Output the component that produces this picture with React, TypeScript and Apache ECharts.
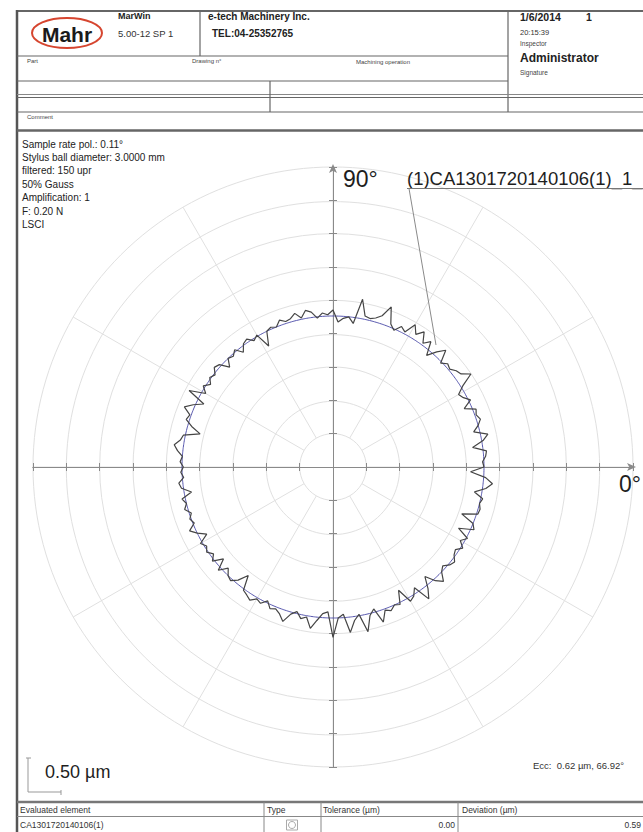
import React, { useEffect, useRef } from "react";
import * as echarts from "echarts";

// ---- data ----
const SAMPLE_ANGLES_DEG = [
  0, 2, 4, 6, 8, 10, 12, 14, 16, 18, 20, 22, 24, 26, 28, 30, 32, 34, 36, 38,
  40, 42, 44, 46, 48, 50, 52, 54, 56, 58, 60, 62, 64, 66, 68, 70, 72, 74, 76, 78,
  80, 82, 84, 86, 88, 90, 92, 94, 96, 98, 100, 102, 104, 106, 108, 110, 112, 114, 116, 118,
  120, 122, 124, 126, 128, 130, 132, 134, 136, 138, 140, 142, 144, 146, 148, 150, 152, 154, 156, 158,
  160, 162, 164, 166, 168, 170, 172, 174, 176, 178, 180, 182, 184, 186, 188, 190, 192, 194, 196, 198,
  200, 202, 204, 206, 208, 210, 212, 214, 216, 218, 220, 222, 224, 226, 228, 230, 232, 234, 236, 238,
  240, 242, 244, 246, 248, 250, 252, 254, 256, 258, 260, 262, 264, 266, 268, 270, 272, 274, 276, 278,
  280, 282, 284, 286, 288, 290, 292, 294, 296, 298, 300, 302, 304, 306, 308, 310, 312, 314, 316, 318,
  320, 322, 324, 326, 328, 330, 332, 334, 336, 338, 340, 342, 344, 346, 348, 350, 352, 354, 356, 358,
];

// deviation from the LSCI reference circle, in µm
const PROFILE_DEVIATION_UM = [
  0, -0.02, 0.03, 0.05, -0.15, 0.02, 0.11, -0.09, 0, 0.06, 0.02, 0.05, -0.11, 0.03, -0.05, -0.09, 0.03, 0.23, 0.11, 0.08,
  0.02, 0.05, -0.02, 0.17, 0.06, -0.08, 0.12, 0.03, 0.18, 0.08, 0.2, 0.03, 0.08, -0.02, 0.05, 0.29, 0.12, 0.06, 0.03, 0.05,
  0.29, -0.09, 0, -0.03, -0.09, 0.09, 0.02, 0.05, -0.02, 0.08, 0.12, 0.02, 0.11, 0.05, 0.03, 0.08, 0, 0.03, 0, -0.21,
  0.02, -0.03, 0.05, 0.02, -0.08, 0.03, -0.03, 0, -0.11, 0.03, 0.06, -0.02, 0.02, -0.05, 0.03, -0.06, 0.18, -0.11, 0.03, 0.14,
  0.02, 0.05, -0.06, -0.21, 0.03, 0.06, 0.14, 0.08, 0, 0.03, -0.02, 0.02, -0.02, 0.06, 0.03, -0.11, 0.05, 0, 0.05, -0.03,
  0.02, -0.02, 0.09, 0, -0.12, 0.03, -0.03, 0.02, -0.05, 0.03, -0.12, 0.05, -0.08, 0, 0.03, -0.05, -0.2, 0.02, 0.05, 0.09,
  0.02, 0.05, -0.03, 0.06, 0.03, 0.08, 0.17, 0.03, -0.03, 0.06, 0.02, 0.18, 0.05, -0.06, -0.09, 0.29, 0, -0.05, 0.23, 0.06,
  -0.02, 0.26, 0.03, -0.05, 0.18, 0.02, 0.06, 0, 0.03, -0.17, 0.06, 0.02, -0.08, 0.18, 0.05, -0.12, 0.03, 0.12, 0, -0.05,
  0.02, 0.05, -0.02, -0.05, 0.03, -0.06, 0.02, -0.17, 0.05, 0, -0.21, 0.02, 0.03, 0, 0.03, -0.11, 0.05, 0.14, 0.03, -0.2,
];

const LSCI_DEVIATION_UM = 0;
const DISPLAY_OFFSET_UM = 2.265; // radius at which the reference circle is plotted
const RING_MIN_UM = 0.5;
const RING_MAX_UM = 4.5;
const RING_STEP_UM = 0.5;
const SPOKE_STEP_DEG = 30;

const INFO_LINES = [
  "Sample rate pol.: 0.11°",
  "Stylus ball diameter: 3.0000 mm",
  "filtered: 150 upr",
  "50% Gauss",
  "Amplification: 1",
  "F: 0.20 N",
  "LSCI",
];
const TABLE_HEADERS = ["Evaluated element", "Type", "Tolerance (µm)", "Deviation (µm)"];
const TABLE_VALUES = ["CA1301720140106(1)", "", "0.00", "0.59"];
const PROFILE_LABEL = "(1)CA1301720140106(1)_1_";
const ECC_TEXT = "Ecc:  0.62 µm, 66.92°";
const SCALE_LABEL = "0.50 µm";
const ANGLE_LABELS = ["90°", "0°"];

const FONT = '"Liberation Sans", Arial, Helvetica, sans-serif';

function txt(text: string, x: number, y: number, size: number, weight = "normal", align = "left", color = "#222") {
  return {
    type: "text",
    x,
    y,
    silent: true,
    z: 10,
    style: {
      text,
      font: `${weight} ${size}px ${FONT}`,
      fill: color,
      textAlign: align,
      textVerticalAlign: "middle",
      align,
      verticalAlign: "middle",
    },
  };
}

function ln(x1: number, y1: number, x2: number, y2: number, color = "#6a6a6a", w = 1) {
  return {
    type: "line",
    silent: true,
    z: 10,
    shape: { x1, y1, x2, y2 },
    style: { stroke: color, lineWidth: w },
  };
}

export default function App() {
  const ref = useRef<HTMLDivElement>(null);

  useEffect(() => {
    if (!ref.current) return;
    const chart = echarts.init(ref.current, null, { renderer: "svg" });

    const profileData = SAMPLE_ANGLES_DEG.map((a, i) => [DISPLAY_OFFSET_UM + PROFILE_DEVIATION_UM[i], a]);
    profileData.push([profileData[0][0], 360]);
    const refData = SAMPLE_ANGLES_DEG.map((a) => [DISPLAY_OFFSET_UM + LSCI_DEVIATION_UM, a]);
    refData.push([refData[0][0], 360]);

    const axisGray = "#8a8a8a";
    const gridGray = "#e0e0e0";
    const hdr = "#666";

    const crossAxisBase = {
      type: "value",
      min: -RING_MAX_UM,
      max: RING_MAX_UM,
      interval: RING_STEP_UM,
      axisLabel: { show: false },
      splitLine: { show: false },
    };

    const graphic: any[] = [
      // header frame
      ln(17, 11, 643, 11, hdr, 2),
      ln(17, 10, 17, 832, "#555", 2.5),
      ln(200, 11, 200, 56, hdr, 1.2),
      ln(508, 11, 508, 112, hdr, 1.2),
      ln(17, 56, 508, 56, hdr, 1.2),
      ln(17, 81, 508, 81, hdr, 1.2),
      ln(17, 94.5, 643, 94.5, "#888", 1),
      ln(17, 97.5, 643, 97.5, hdr, 1.2),
      ln(17, 112, 643, 112, hdr, 1.2),
      ln(270, 81, 270, 112, hdr, 1.2),
      ln(17, 130.5, 643, 130.5, "#666", 2.5),
      // logo
      {
        type: "ellipse",
        silent: true,
        z: 10,
        shape: { cx: 67, cy: 33, rx: 35, ry: 15 },
        style: { fill: "rgba(0,0,0,0)", stroke: "#d6452f", lineWidth: 2 },
      },
      txt("Mahr", 67, 34, 21, "bold", "center", "#1a1a1a"),
      txt("MarWin", 118, 16, 9, "bold"),
      txt("5.00-12 SP 1", 118, 33, 9.5, "normal", "left", "#333"),
      txt("e-tech Machinery Inc.", 208, 16, 10, "bold"),
      txt("TEL:04-25352765", 212, 33, 10, "bold"),
      txt("Part", 27, 60.5, 6, "normal", "left", "#444"),
      txt("Drawing n°", 192, 60.5, 6, "normal", "left", "#444"),
      txt("Machining operation", 356, 62, 6, "normal", "left", "#444"),
      txt("1/6/2014", 520, 17, 10.5, "bold"),
      txt("1", 586, 17, 10.5, "bold"),
      txt("20:15:39", 520, 32, 7.5, "normal", "left", "#333"),
      txt("Inspector", 520, 43, 6.5, "normal", "left", "#444"),
      txt("Administrator", 520, 58, 12, "bold"),
      txt("Signature", 520, 72.5, 6.5, "normal", "left", "#444"),
      txt("Comment", 27, 117, 6, "normal", "left", "#444"),
      // info lines
      ...INFO_LINES.map((s, i) => txt(s, 22, 144 + i * 13.4, 10, "normal", "left", "#222")),
      // angle labels and profile label
      txt(ANGLE_LABELS[0], 343, 179, 23, "normal", "left", "#1e1e1e"),
      txt(ANGLE_LABELS[1], 619, 484, 23, "normal", "left", "#1e1e1e"),
      txt(PROFILE_LABEL, 407, 178, 18.5, "normal", "left", "#1e1e1e"),
      ln(407, 188.5, 643, 188.5, "#777", 1),
      ln(409, 188.5, 436, 345, "#8a8a8a", 1),
      // scale bar
      ln(28, 758, 28, 792, "#999", 1),
      ln(28, 792, 61, 792, "#999", 1),
      ln(26, 758, 31, 758, "#999", 1),
      ln(61, 790, 61, 795, "#999", 1),
      txt(SCALE_LABEL, 45, 772, 18, "normal", "left", "#1e1e1e"),
      txt(ECC_TEXT, 533, 765, 9.5, "normal", "left", "#333"),
      // bottom table
      ln(17, 802, 643, 802, "#777", 2.5),
      ln(17, 816.5, 643, 816.5, "#888", 1),
      ln(264, 802, 264, 832, "#888", 1),
      ln(321, 802, 321, 832, "#888", 1),
      ln(458, 802, 458, 832, "#888", 1),
      txt(TABLE_HEADERS[0], 20, 809.5, 8.5, "normal", "left", "#333"),
      txt(TABLE_HEADERS[1], 267, 809.5, 8.5, "normal", "left", "#333"),
      txt(TABLE_HEADERS[2], 323, 809.5, 8.5, "normal", "left", "#333"),
      txt(TABLE_HEADERS[3], 462, 809.5, 8.5, "normal", "left", "#333"),
      txt(TABLE_VALUES[0], 20, 825, 8.5, "normal", "left", "#333"),
      txt(TABLE_VALUES[2], 455, 825, 8.5, "normal", "right", "#333"),
      txt(TABLE_VALUES[3], 641, 825, 8.5, "normal", "right", "#333"),
      {
        type: "rect",
        silent: true,
        z: 10,
        shape: { x: 286.5, y: 820, width: 11, height: 10 },
        style: { fill: "rgba(0,0,0,0)", stroke: "#aaa", lineWidth: 1 },
      },
      {
        type: "circle",
        silent: true,
        z: 10,
        shape: { cx: 292, cy: 825, r: 3.5 },
        style: { fill: "rgba(0,0,0,0)", stroke: "#aaa", lineWidth: 1 },
      },
    ];

    chart.setOption({
      animation: false,
      backgroundColor: "#ffffff",
      polar: { center: [333, 467], radius: [33.33, 300] },
      angleAxis: {
        type: "value",
        min: 0,
        max: 360,
        interval: SPOKE_STEP_DEG,
        startAngle: 0,
        clockwise: false,
        axisLine: { show: false },
        axisTick: { show: false },
        axisLabel: { show: false },
        splitLine: { show: true, lineStyle: { color: gridGray, width: 1 } },
      },
      radiusAxis: {
        type: "value",
        min: RING_MIN_UM,
        max: RING_MAX_UM,
        interval: RING_STEP_UM,
        axisLine: { show: false },
        axisTick: { show: false },
        axisLabel: { show: false },
        splitLine: { show: true, lineStyle: { color: gridGray, width: 1 } },
      },
      grid: { left: 33, top: 167, width: 600, height: 600, containLabel: false },
      xAxis: [
        {
          ...crossAxisBase,
          position: "bottom",
          axisLine: {
            onZero: true,
            symbol: ["none", "arrow"],
            symbolSize: [6, 9],
            symbolOffset: [0, 3],
            lineStyle: { color: axisGray, width: 1 },
          },
          axisTick: { show: true, length: 4, lineStyle: { color: axisGray } },
        },
        {
          ...crossAxisBase,
          position: "top",
          axisLine: { onZero: true, lineStyle: { color: axisGray, width: 1 } },
          axisTick: { show: true, length: 4, lineStyle: { color: axisGray } },
        },
      ],
      yAxis: [
        {
          ...crossAxisBase,
          position: "left",
          axisLine: {
            onZero: true,
            symbol: ["none", "arrow"],
            symbolSize: [6, 9],
            symbolOffset: [0, 3],
            lineStyle: { color: axisGray, width: 1 },
          },
          axisTick: { show: true, length: 4, lineStyle: { color: axisGray } },
        },
        {
          ...crossAxisBase,
          position: "right",
          axisLine: { onZero: true, lineStyle: { color: axisGray, width: 1 } },
          axisTick: { show: true, length: 4, lineStyle: { color: axisGray } },
        },
      ],
      series: [
        {
          type: "line",
          name: "LSCI",
          coordinateSystem: "polar",
          data: refData,
          symbol: "none",
          smooth: true,
          lineStyle: { color: "#5656ad", width: 1 },
          z: 3,
        },
        {
          type: "line",
          name: "Profile",
          coordinateSystem: "polar",
          data: profileData,
          symbol: "none",
          lineStyle: { color: "#454545", width: 1.2 },
          z: 4,
        },
      ],
      graphic,
    });

    return () => chart.dispose();
  }, []);

  return (
    <div
      ref={ref}
      style={{ position: "absolute", left: 0, top: 0, width: 643, height: 832, background: "#fff" }}
    />
  );
}
